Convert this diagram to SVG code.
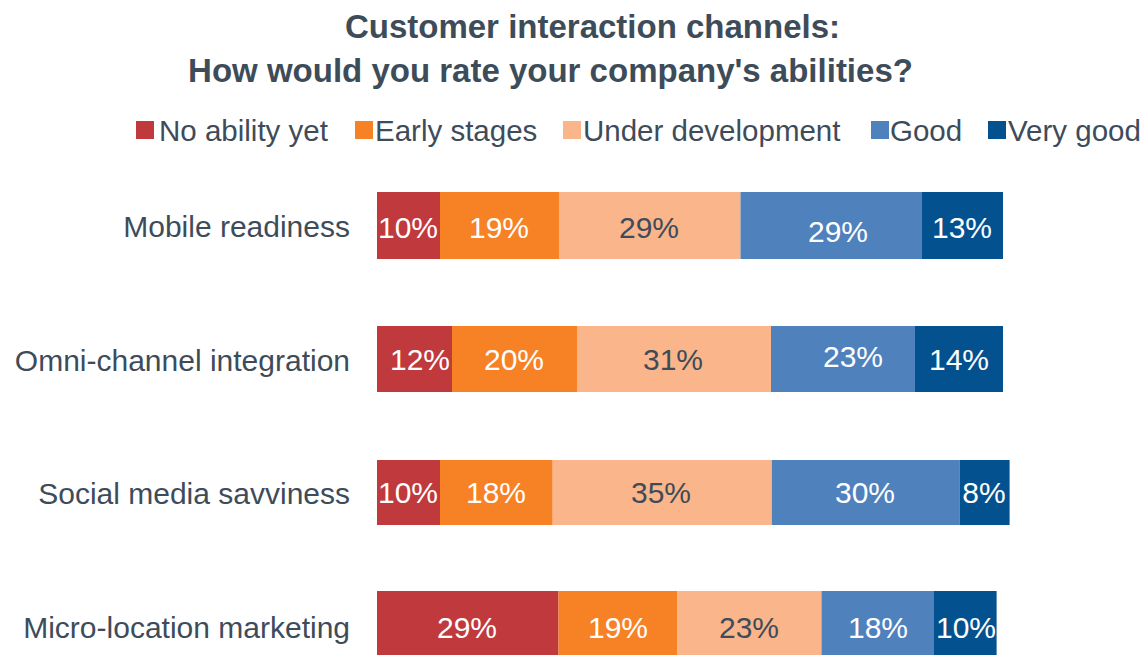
<svg xmlns="http://www.w3.org/2000/svg" width="1147" height="655" viewBox="0 0 1147 655">
<style>
text{font-family:"Liberation Sans",Arial,sans-serif;fill:#3e4c5a}
.title{font-size:33px;font-weight:bold;text-anchor:middle}
.leg{font-size:29.5px}
.cat{font-size:30px;text-anchor:end}
.val{font-size:30px;text-anchor:middle;fill:#ffffff}
.val.dk{fill:#3e4c5a}
.c1{fill:#c0393d}.c2{fill:#f78125}.c3{fill:#fbb58a}.c4{fill:#4f81bd}.c5{fill:#03528f}
</style>
<rect width="1147" height="655" fill="#ffffff"/>
<g id="title">
<text class="title" x="592.5" y="38">Customer interaction channels:</text>
<text class="title" x="550.5" y="82">How would you rate your company's abilities?</text>
</g>
<g id="legend">
<rect class="c1" x="136" y="121" width="18" height="18"/><text class="leg" x="159" y="141">No ability yet</text>
<rect class="c2" x="355" y="121" width="18" height="18"/><text class="leg" x="375" y="141">Early stages</text>
<rect class="c3" x="563" y="121" width="18" height="18"/><text class="leg" x="583" y="141">Under development</text>
<rect class="c4" x="871" y="121" width="18" height="18"/><text class="leg" x="890" y="141">Good</text>
<rect class="c5" x="988" y="121" width="18" height="18"/><text class="leg" x="1008" y="141">Very good</text>
</g>
<g id="bar-mobile">
<text class="cat" x="350" y="237">Mobile readiness</text>
<rect class="c1" x="377" y="192" width="63" height="67"/>
<rect class="c2" x="440" y="192" width="119" height="67"/>
<rect class="c3" x="559" y="192" width="181.5" height="67"/>
<rect class="c4" x="740.5" y="192" width="181.5" height="67"/>
<rect class="c5" x="922" y="192" width="81" height="67"/>
<text class="val" x="408" y="238">10%</text>
<text class="val" x="499" y="238">19%</text>
<text class="val dk" x="649" y="238">29%</text>
<text class="val" x="838" y="242">29%</text>
<text class="val" x="962" y="238">13%</text>
</g>
<g id="bar-omni">
<text class="cat" x="350" y="371">Omni-channel integration</text>
<rect class="c1" x="377" y="326" width="75" height="66"/>
<rect class="c2" x="452" y="326" width="125" height="66"/>
<rect class="c3" x="577" y="326" width="194" height="66"/>
<rect class="c4" x="771" y="326" width="144" height="66"/>
<rect class="c5" x="915" y="326" width="88" height="66"/>
<text class="val" x="420" y="370">12%</text>
<text class="val" x="514" y="370">20%</text>
<text class="val dk" x="673" y="370">31%</text>
<text class="val" x="853" y="367">23%</text>
<text class="val" x="959" y="370">14%</text>
</g>
<g id="bar-social">
<text class="cat" x="350" y="504">Social media savviness</text>
<rect class="c1" x="377" y="460" width="63" height="65"/>
<rect class="c2" x="440" y="460" width="112.7" height="65"/>
<rect class="c3" x="552.7" y="460" width="219.1" height="65"/>
<rect class="c4" x="771.8" y="460" width="187.8" height="65"/>
<rect class="c5" x="959.6" y="460" width="50" height="65"/>
<text class="val" x="408" y="503">10%</text>
<text class="val" x="496" y="503">18%</text>
<text class="val dk" x="661" y="503">35%</text>
<text class="val" x="865" y="503">30%</text>
<text class="val" x="984" y="503">8%</text>
</g>
<g id="bar-micro">
<text class="cat" x="350" y="638">Micro-location marketing</text>
<rect class="c1" x="377" y="591" width="181.5" height="66"/>
<rect class="c2" x="558.5" y="591" width="119" height="66"/>
<rect class="c3" x="677.5" y="591" width="144" height="66"/>
<rect class="c4" x="821.5" y="591" width="112.5" height="66"/>
<rect class="c5" x="934" y="591" width="62.6" height="66"/>
<text class="val" x="467" y="638">29%</text>
<text class="val" x="618" y="638">19%</text>
<text class="val dk" x="749" y="638">23%</text>
<text class="val" x="878" y="638">18%</text>
<text class="val" x="966" y="638">10%</text>
</g>
</svg>
